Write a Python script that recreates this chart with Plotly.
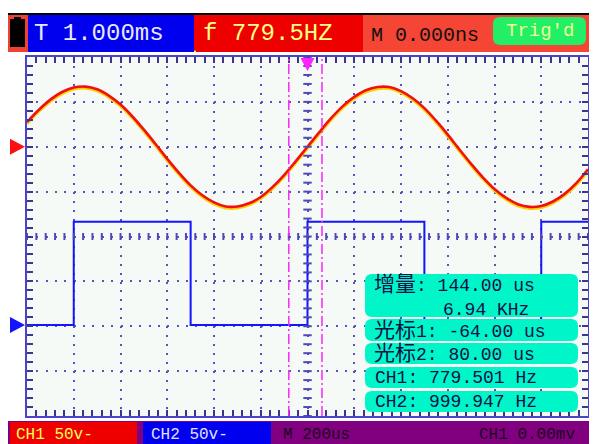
import plotly.graph_objects as go
import numpy as np

# page is drawn with an 8px body margin, so the figure covers page pixels 8..597 / 8..444
OFF = 8
W, H = 597 - OFF, 444 - OFF

# ---------------- data (read from the screen) ----------------
# time axis in microseconds (200 us / div, 12 div), vertical in divisions
t_us = [-1200, -1150, -1100, -1050, -1000, -950, -900, -850, -800, -750, -700,
        -650, -600, -550, -500, -450, -400, -350, -300, -250, -200, -150, -100,
        -50, 0, 50, 100, 150, 200, 250, 300, 350, 400, 450, 500, 550, 600, 650,
        700, 750, 800, 850, 900, 950, 1000, 1050, 1100, 1150, 1200]
ch1_div = [2.55, 2.82, 3.05, 3.22, 3.32, 3.34, 3.28, 3.14, 2.94, 2.68, 2.38,
           2.06, 1.73, 1.42, 1.14, 0.92, 0.76, 0.67, 0.67, 0.74, 0.88, 1.10, 1.37,
           1.68, 2.00, 2.32, 2.63, 2.90, 3.11, 3.26, 3.33, 3.33, 3.24, 3.08, 2.86,
           2.58, 2.27, 1.94, 1.62, 1.32, 1.06, 0.86, 0.72, 0.66, 0.68, 0.78, 0.95,
           1.19, 1.50]
ch2_t_us = [-1200, -1000, -500, 0, 500, 1000, 1200]
ch2_div = [-1.97, 0.33, -1.97, 0.33, -1.97, 0.33, 0.33]
cursor_t_us = [-80, 62]
ch1_offset_div = 2.0
ch2_offset_div = -1.97
ch1_trig_div = 2.0
ch2_right_div = -0.77

header_T = "T 1.000ms"
header_f = "f 779.5HZ"
header_M = "M 0.000ns"
header_trig = "Trig'd"
meas_lines = ["<span style='font-size:21px'>增量</span>: 144.00 us",
              "6.94 KHz",
              "<span style='font-size:21px'>光标</span>1: -64.00 us",
              "<span style='font-size:21px'>光标</span>2: 80.00 us",
              "CH1: 779.501 Hz",
              "CH2: 999.947 Hz"]
bottom_labels = ["CH1 50v-", "CH2 50v-", "M 200us", "CH1 0.00mv"]

# ---------------- geometry (page pixels) ----------------
PX0, PX1, PY0, PY1 = 27, 588, 57, 416
XR = [-1200, 1200]
YR = [-4, 4]
MONO = "Liberation Mono, DejaVu Sans Mono, monospace"
CJK = "Liberation Mono, Noto Sans CJK SC, monospace"


def fx(x):
    return (x - OFF) / W


def fy(y):
    return 1 - (y - OFF) / H


def rect(x0, y0, x1, y1, color, layer="above"):
    return dict(type="rect", xref="paper", yref="paper", x0=fx(x0), x1=fx(x1),
                y0=fy(y1), y1=fy(y0), fillcolor=color, line=dict(width=0), layer=layer)


def rrect(x0, y0, x1, y1, r, color):
    pts = [("M", x0 + r, y0), ("L", x1 - r, y0), ("Q", x1, y0, x1, y0 + r),
           ("L", x1, y1 - r), ("Q", x1, y1, x1 - r, y1), ("L", x0 + r, y1),
           ("Q", x0, y1, x0, y1 - r), ("L", x0, y0 + r), ("Q", x0, y0, x0 + r, y0)]
    s = ""
    for p in pts:
        coords = p[1:]
        parts = [f"{fx(coords[i]):.5f},{fy(coords[i+1]):.5f}" for i in range(0, len(coords), 2)]
        s += p[0] + " " + " ".join(parts) + " "
    return dict(type="path", xref="paper", yref="paper", path=s + "Z",
                fillcolor=color, line=dict(width=0), layer="above")


def tri(points, color):
    s = "M " + " L ".join(f"{fx(a):.5f},{fy(b):.5f}" for a, b in points) + " Z"
    return dict(type="path", xref="paper", yref="paper", path=s,
                fillcolor=color, line=dict(width=0), layer="above")


def ypix(div):
    return PY0 + (YR[1] - div) / (YR[1] - YR[0]) * (PY1 - PY0)


def xpix(t):
    return PX0 + (t - XR[0]) / (XR[1] - XR[0]) * (PX1 - PX0)


fig = go.Figure()

ch1_arr = np.array(ch1_div)
fig.add_trace(go.Scatter(x=t_us, y=ch1_arr - 0.035, mode="lines", line_shape="spline",
                         line=dict(color="#ffd000", width=3), hoverinfo="skip"))
fig.add_trace(go.Scatter(x=t_us, y=ch1_arr, mode="lines", line_shape="spline",
                         line=dict(color="#f01010", width=2.6), hoverinfo="skip"))
fig.add_trace(go.Scatter(x=ch2_t_us, y=ch2_div, mode="lines", line_shape="hv",
                         line=dict(color="#1414ff", width=2), hoverinfo="skip"))

minor_x = np.arange(XR[0], XR[1] + 1, 40)
minor_y = np.arange(YR[0], YR[1] + 0.01, 0.2)
fig.add_trace(go.Scatter(x=minor_x, y=np.zeros_like(minor_x), mode="markers",
                         marker=dict(symbol="line-ns", size=5,
                                     line=dict(color="#5048b8", width=2)),
                         hoverinfo="skip"))
fig.add_trace(go.Scatter(x=np.zeros_like(minor_y), y=minor_y, mode="markers",
                         marker=dict(symbol="line-ew", size=6,
                                     line=dict(color="#5048b8", width=2)),
                         hoverinfo="skip"))

shapes = []
for c in cursor_t_us:
    shapes.append(dict(type="line", xref="x", yref="paper", x0=c, x1=c,
                       y0=fy(PY1), y1=fy(PY0),
                       line=dict(color="#ff22ff", width=1.5, dash="10px,3px,2px,3px")))

# header
shapes.append(rect(8, 13, 597, 15, "#000000"))
shapes.append(rect(8, 15, 28, 52, "#f04030"))
shapes.append(rect(10, 19, 25, 47, "#000000"))
shapes.append(rect(14, 17, 21, 19, "#000000"))
shapes.append(rect(363, 15, 597, 52, "#f54535"))
shapes.append(rect(194, 15, 363, 52, "#ee0000"))
shapes.append(rect(28, 15, 194, 52, "#0000ee"))
shapes.append(rrect(493, 17, 586, 45, 7, "#22ee66"))

# bottom bar
shapes.append(rect(7, 421, 597, 444, "#800080"))
shapes.append(rect(10, 422, 137, 444, "#ee0000"))
shapes.append(rect(143, 422, 271, 444, "#0000ee"))

# measurement boxes
for (y0, y1) in [(274, 317), (319, 341), (343, 364), (367, 388), (391, 412)]:
    shapes.append(rrect(365, y0, 578, y1, 7, "#00f5c8"))

# channel markers
yc1 = ypix(ch1_offset_div)
yc2 = ypix(ch2_offset_div)
shapes.append(tri([(10, yc1 - 8), (25, yc1), (10, yc1 + 8)], "#ff1010"))
shapes.append(tri([(10, yc2 - 8), (25, yc2), (10, yc2 + 8)], "#1414ff"))
yt1 = ypix(ch1_trig_div)
yt2 = ypix(ch2_right_div)
shapes.append(tri([(597, yt1 - 6), (589, yt1), (597, yt1 + 6)], "#ff3010"))
shapes.append(tri([(597, yt2 - 6), (589, yt2), (597, yt2 + 6)], "#1414ff"))
xt = xpix(0)
shapes.append(tri([(xt - 7, 58), (xt + 7, 58), (xt, 71)], "#ff22ff"))
shapes.append(tri([(192, 55), (198, 55), (195, 50)], "#ffffe0"))

annotations = []


def txt(x, y, s, size, color, font=MONO, anchor="left"):
    annotations.append(dict(x=fx(x), y=fy(y), xref="paper", yref="paper", text=s,
                            showarrow=False, xanchor=anchor, yanchor="middle",
                            font=dict(family=font, size=size, color=color)))


txt(32, 34, header_T, 24, "#e8e8ff")
txt(201, 34, header_f, 24, "#ffff80")
txt(369, 35, header_M, 20, "#101010")
txt(539.5, 31, header_trig, 19, "#f0ff90", anchor="center")

ys = [285, 310, 331, 354, 378, 402]
xs = [372, 441, 372, 372, 373, 373]
for x, y, s in zip(xs, ys, meas_lines):
    txt(x, y, s, 18, "#101048", font=CJK)

txt(14, 435, bottom_labels[0], 16, "#ffff50")
txt(149, 435, bottom_labels[1], 16, "#e0e0ff")
txt(281, 435, bottom_labels[2], 16, "#200020")
txt(477, 435, bottom_labels[3], 16, "#200020")

axis_common = dict(showticklabels=False, ticks="inside", ticklen=6, tickwidth=2,
                   tickcolor="#3c3490", showline=True, linecolor="#4a44c8",
                   linewidth=2, mirror="ticks", zeroline=False, fixedrange=True,
                   gridcolor="#5a50c0", gridwidth=2)

fig.update_layout(
    width=W, height=H, margin=dict(l=0, r=0, t=0, b=0),
    paper_bgcolor="#ffffff", plot_bgcolor="#f5faf6", showlegend=False,
    xaxis=dict(range=XR, domain=[fx(PX0), fx(PX1)], dtick=200, tick0=0,
               griddash="2px,6.98px",
               minor=dict(dtick=40, ticks="inside", ticklen=6, tickwidth=2,
                          tickcolor="#3c3490", showgrid=False),
               **axis_common),
    yaxis=dict(range=YR, domain=[fy(PY1), fy(PY0)], dtick=1, tick0=0,
               griddash="2px,7.35px",
               minor=dict(dtick=0.2, ticks="inside", ticklen=6, tickwidth=2,
                          tickcolor="#3c3490", showgrid=False),
               **axis_common),
    shapes=shapes, annotations=annotations,
)

fig.write_html("out.html")
